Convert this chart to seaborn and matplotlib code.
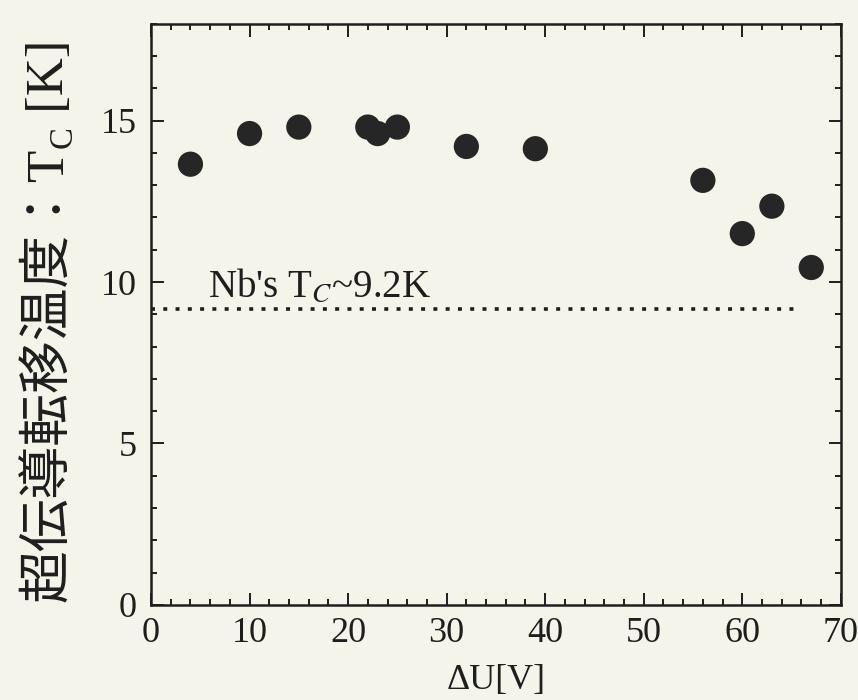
"""Scatter of superconducting transition temperature vs. bias voltage."""

import matplotlib

matplotlib.use("Agg")
import matplotlib.pyplot as plt
import pandas as pd
import seaborn as sns
from matplotlib.ticker import MultipleLocator

# values
delta_u = [4, 10, 15, 22, 23, 25, 32, 39, 56, 60, 63, 67]
tc = [13.65, 14.6, 14.8, 14.8, 14.6, 14.8, 14.2, 14.13, 13.15, 11.5, 12.35, 10.45]
nb_tc = 9.15
nb_line_x = [0, 66]

# y label pieces: main text, subscript, unit
ylabel_main = "超伝導転移温度：T"
ylabel_sub = "C"
ylabel_unit = " [K]"

df = pd.DataFrame({"dU": delta_u, "Tc": tc})

sns.set_style("ticks")
plt.rcParams["font.family"] = ["Liberation Serif", "Noto Sans CJK JP", "DejaVu Sans"]
plt.rcParams["mathtext.fontset"] = "stix"

bg = "#f4f4ea"
ink = "#1e1e1e"
W, H = 858, 700
fig = plt.figure(figsize=(W / 100, H / 100), dpi=100, facecolor=bg)
ax = fig.add_axes([0.176, 0.136, 0.804, 0.830], facecolor=bg)

sns.scatterplot(data=df, x="dU", y="Tc", ax=ax, s=330, color="#262626",
                edgecolor="none", zorder=3)
sns.lineplot(x=nb_line_x, y=[nb_tc, nb_tc], ax=ax, color=ink,
             linestyle=(0, (1.1, 2.3)), linewidth=2.6)

ax.text(5.8, 9.55, "Nb's T$_C$~9.2K", fontsize=28, color=ink)

ax.set_xlim(0, 70)
ax.set_ylim(0, 18)
ax.xaxis.set_major_locator(MultipleLocator(10))
ax.xaxis.set_minor_locator(MultipleLocator(2))
ax.yaxis.set_major_locator(MultipleLocator(5))
ax.yaxis.set_minor_locator(MultipleLocator(1))
ax.tick_params(which="both", direction="in", top=True, right=True,
               labelsize=26, width=1.4, colors=ink)
ax.tick_params(which="major", length=9)
ax.tick_params(axis="x", which="major", pad=9)
ax.tick_params(axis="y", which="major", pad=10)
ax.tick_params(which="minor", length=4)
for sp in ax.spines.values():
    sp.set_linewidth(1.8)
    sp.set_color(ink)

ax.set_xlabel("ΔU[V]", fontsize=26, color=ink, labelpad=10)
ax.set_ylabel("")

# y label built from pieces so CJK falls back per glyph and C is a subscript
fs = 38
xr = 74 / W
t1 = fig.text(xr, 1 - 602 / H, ylabel_main, rotation=90, ha="right",
              va="bottom", fontsize=fs, color=ink)
fig.canvas.draw()
rend = fig.canvas.get_renderer()
y_next = t1.get_window_extent(rend).y1 / H
t2 = fig.text(xr + 5 / W, y_next, ylabel_sub, rotation=90, ha="right",
              va="bottom", fontsize=fs * 0.62, color=ink)
y_next = t2.get_window_extent(rend).y1 / H
fig.text(xr, y_next, ylabel_unit, rotation=90, ha="right", va="bottom",
         fontsize=fs, color=ink)

fig.savefig("out.png", dpi=100, facecolor=bg)
plt.close(fig)
